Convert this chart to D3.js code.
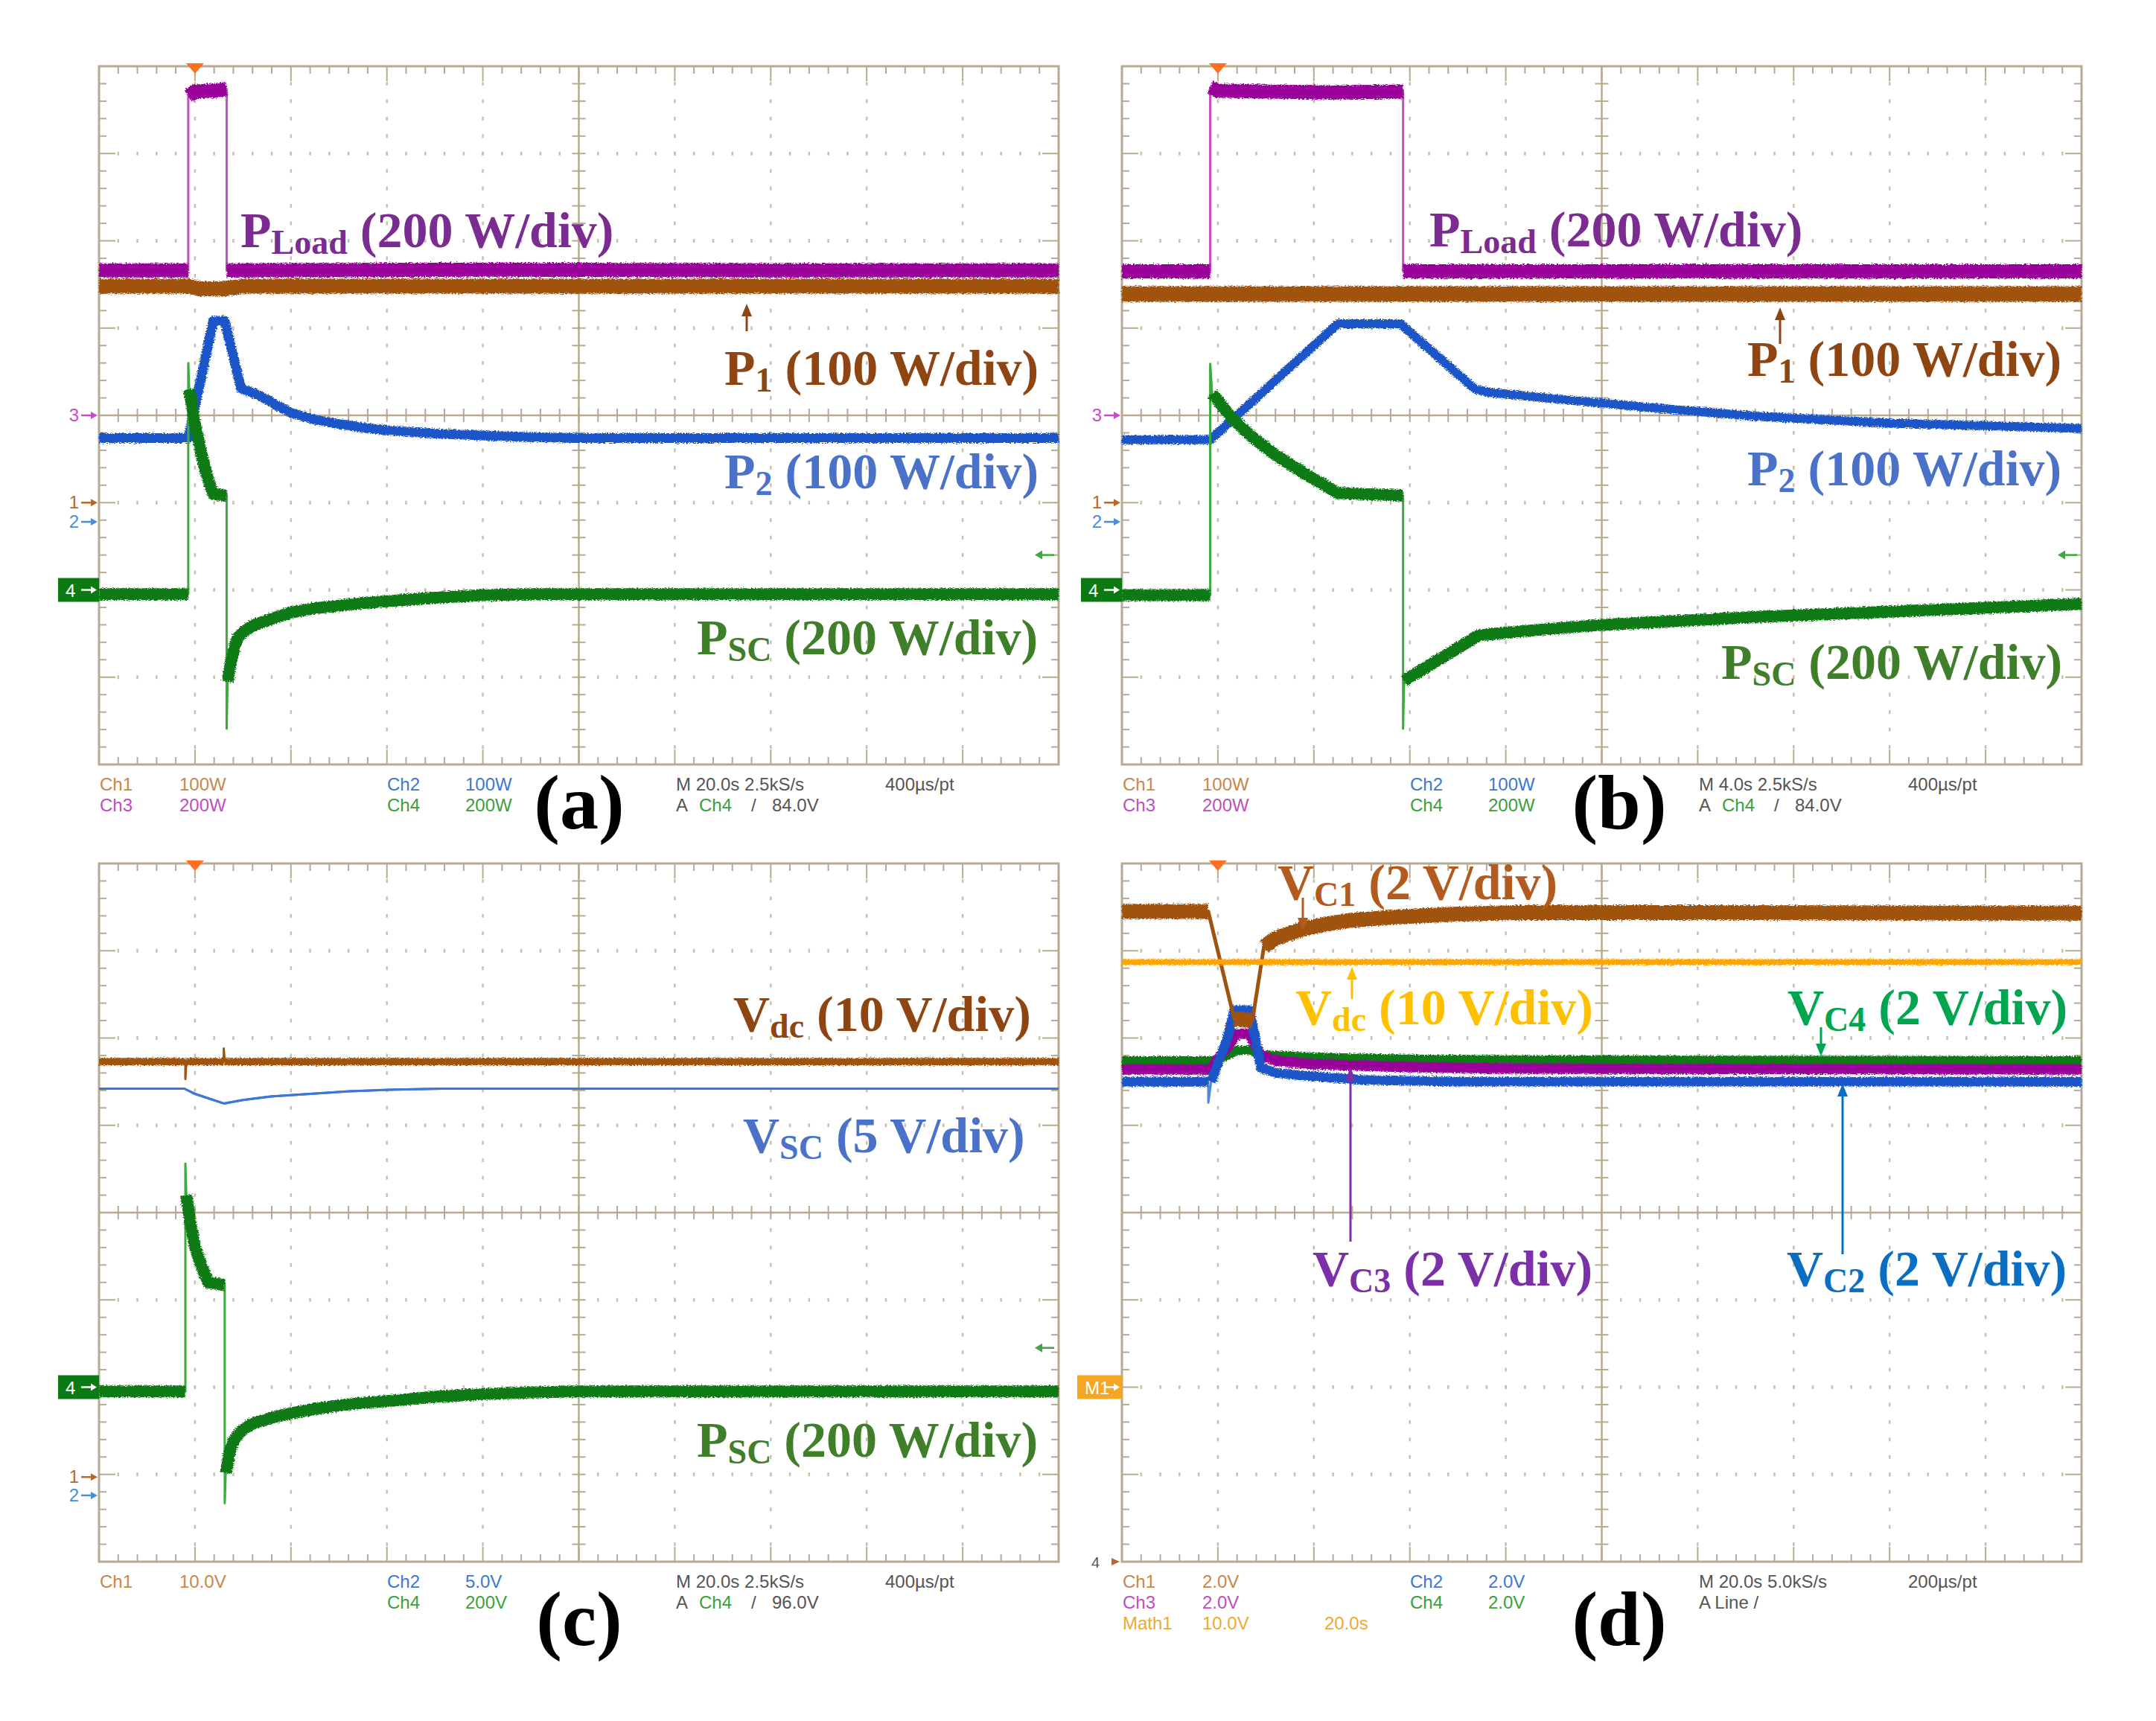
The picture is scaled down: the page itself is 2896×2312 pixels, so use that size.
<!DOCTYPE html>
<html><head><meta charset="utf-8">
<script src="https://cdn.jsdelivr.net/npm/d3@7"></script>
<style>body{margin:0;background:#fff}</style>
</head><body>
<svg id="chart" width="2896" height="2312" xmlns="http://www.w3.org/2000/svg"></svg>
<script>
// ---------------- DATA (x in divisions 0..10, y in divisions -4..4) ----------------
// Panel (a)
const aPLoad = [
  [[0, 1.66], [0.93, 1.66]],
  [[0.93, 3.66], [1.0, 3.71], [1.2, 3.72], [1.33, 3.74]],
  [[1.33, 1.66], [4.0, 1.67], [7.0, 1.66], [10, 1.66]]
];
const aP1 = [[[0, 1.48], [0.93, 1.48], [1.05, 1.45], [1.3, 1.45], [1.5, 1.48], [10, 1.48]]];
const aP2 = [[[0, -0.26], [0.93, -0.26], [1.19, 1.08], [1.31, 1.08], [1.48, 0.31], [1.6, 0.26], [1.72, 0.2],
              [1.86, 0.11], [2.0, 0.03], [2.25, -0.05], [2.5, -0.1], [2.75, -0.14], [3.0, -0.17], [3.5, -0.21],
              [4.0, -0.23], [4.5, -0.25], [5.0, -0.26], [10, -0.26]]];
const aPSC = [
  [[0, -2.05], [0.93, -2.05]],
  [[0.93, 0.6]],
  [[0.94, 0.3], [0.97, 0.1], [1.0, -0.1], [1.05, -0.35], [1.09, -0.55], [1.14, -0.74], [1.19, -0.9], [1.33, -0.92]],
  [[1.33, -3.59]],
  [[1.34, -3.05], [1.38, -2.8], [1.42, -2.62], [1.45, -2.54], [1.52, -2.47], [1.6, -2.41], [1.8, -2.33],
   [2.0, -2.26], [2.25, -2.21], [2.5, -2.18], [2.75, -2.15], [3.0, -2.13], [3.5, -2.09], [4.0, -2.06],
   [4.5, -2.05], [10, -2.05]]
];
// Panel (b)
const bPLoad = [
  [[0, 1.65], [0.92, 1.65]],
  [[0.92, 3.76], [1.0, 3.72], [1.5, 3.71], [2.2, 3.70], [2.93, 3.71]],
  [[2.93, 1.65], [10, 1.65]]
];
const bP1 = [[[0, 1.39], [10, 1.39]]];
const bP2 = [[[0, -0.28], [0.92, -0.28], [2.25, 1.05], [2.9, 1.05], [3.68, 0.3], [3.85, 0.26], [4.23, 0.22],
              [4.6, 0.18], [5.0, 0.14], [5.5, 0.09], [5.94, 0.05], [6.62, -0.01], [7.3, -0.05], [8.0, -0.09],
              [9.0, -0.12], [10, -0.15]]];
const bPSC = [
  [[0, -2.06], [0.92, -2.06]],
  [[0.92, 0.59]],
  [[0.94, 0.25], [1.05, 0.1], [1.16, -0.05], [1.35, -0.24], [1.57, -0.43], [1.75, -0.56], [1.91, -0.67],
   [2.08, -0.78], [2.25, -0.89], [2.93, -0.92]],
  [[2.93, -3.59]],
  [[2.94, -3.04], [3.72, -2.52], [4.2, -2.47], [5.0, -2.4], [6.62, -2.31], [8.0, -2.25], [10, -2.16]]
];
// Panel (c)
const cVdc = [
  [[0, 1.73], [0.9, 1.73]],
  [[0.9, 1.53]],
  [[0.91, 1.73], [1.3, 1.73]],
  [[1.3, 1.88]],
  [[1.31, 1.73], [10, 1.73]]
];
const cVSC = [[[0, 1.42], [0.89, 1.42], [1.0, 1.36], [1.3, 1.25], [1.5, 1.29], [1.79, 1.33], [2.2, 1.36],
               [2.61, 1.39], [3.1, 1.41], [3.57, 1.42], [10, 1.42]]];
const cPSC = [
  [[0, -2.05], [0.9, -2.05]],
  [[0.9, 0.56]],
  [[0.91, 0.2], [0.95, -0.1], [1.0, -0.4], [1.08, -0.65], [1.14, -0.8], [1.31, -0.83]],
  [[1.31, -3.33]],
  [[1.32, -2.98], [1.36, -2.75], [1.4, -2.62], [1.45, -2.54], [1.52, -2.47], [1.6, -2.42], [1.8, -2.35],
   [2.0, -2.30], [2.25, -2.25], [2.5, -2.21], [2.75, -2.18], [3.0, -2.16], [3.5, -2.11], [4.0, -2.08],
   [4.5, -2.06], [5.0, -2.05], [10, -2.05]]
];
// Panel (d)
const dVC1 = [
  [[0, 3.45], [0.9, 3.45]],
  [[1.17, 2.22], [1.36, 2.2]],
  [[1.48, 3.05], [1.55, 3.1], [1.6, 3.14], [1.75, 3.2], [1.89, 3.25], [2.15, 3.31], [2.4, 3.35], [2.65, 3.37],
   [2.91, 3.39], [3.5, 3.42], [4.24, 3.44], [10, 3.43]]
];
const dVdc = [[[0, 2.87], [10, 2.87]]];
const dVC4 = [[[0, 1.74], [0.95, 1.74], [1.1, 1.8], [1.2, 1.86], [1.33, 1.86], [1.45, 1.81], [2.0, 1.78], [3.0, 1.76], [4.0, 1.75], [10, 1.74]]];
const dVC3 = [[[0, 1.64], [0.92, 1.64], [1.1, 1.9], [1.2, 2.05], [1.33, 2.05], [1.45, 1.8], [1.6, 1.74], [2.0, 1.7], [2.9, 1.67], [4.0, 1.65], [10, 1.64]]];
const dVC2 = [
  [[0, 1.5], [0.9, 1.5]],
  [[0.9, 1.26]],
  [[0.93, 1.5], [1.1, 2.0], [1.17, 2.32], [1.33, 2.32], [1.45, 1.66], [1.6, 1.6], [1.89, 1.57], [2.5, 1.52], [3.5, 1.5], [10, 1.5]]
];

// channel reference markers [label, level]
const markersAB = [['3', 0], ['1', -1.0], ['2', -1.22]];
const markersC = [['1', -3.03], ['2', -3.24]];
const ch4BoxLevel = -2.0;
const triggerX = 1.0;
const trigLevelAB = -1.6, trigLevelC = -1.55;

// text labels
const labelsA = [['P', 'Load', '(200 W/div)'], ['P', '1', '(100 W/div)'], ['P', '2', '(100 W/div)'], ['P', 'SC', '(200 W/div)']];
const labelsC = [['V', 'dc', '(10 V/div)'], ['V', 'SC', '(5 V/div)'], ['P', 'SC', '(200 W/div)']];
const labelsD = [['V', 'C1', '(2 V/div)'], ['V', 'dc', '(10 V/div)'], ['V', 'C4', '(2 V/div)'], ['V', 'C3', '(2 V/div)'], ['V', 'C2', '(2 V/div)']];

const infoA = [['Ch1', '100W', 'Ch2', '100W', 'M 20.0s 2.5kS/s', '400µs/pt'], ['Ch3', '200W', 'Ch4', '200W', '84.0V']];
const infoB = [['Ch1', '100W', 'Ch2', '100W', 'M 4.0s 2.5kS/s', '400µs/pt'], ['Ch3', '200W', 'Ch4', '200W', '84.0V']];
const infoC = [['Ch1', '10.0V', 'Ch2', '5.0V', 'M 20.0s 2.5kS/s', '400µs/pt'], ['', '', 'Ch4', '200V', '96.0V']];
const infoD = [['Ch1', '2.0V', 'Ch2', '2.0V', 'M 20.0s 5.0kS/s', '200µs/pt'], ['Ch3', '2.0V', 'Ch4', '2.0V', 'A Line /'], ['Math1', '10.0V', '20.0s']];
const panelLetters = ['(a)', '(b)', '(c)', '(d)'];

// ---------------- DRAWING ----------------
const svg = d3.select('#chart');
const defs = svg.append('defs');
const flt = defs.append('filter').attr('id', 'noise').attr('filterUnits', 'userSpaceOnUse')
  .attr('x', 0).attr('y', 0).attr('width', 2896).attr('height', 2312);
flt.append('feTurbulence').attr('type', 'fractalNoise').attr('baseFrequency', '0.45 0.9').attr('numOctaves', 2).attr('seed', 7).attr('result', 'tb');
flt.append('feDisplacementMap').attr('in', 'SourceGraphic').attr('in2', 'tb').attr('scale', 6)
  .attr('xChannelSelector', 'R').attr('yChannelSelector', 'G');

svg.append('rect').attr('width', 2896).attr('height', 2312).attr('fill', '#fff');

const COL = {
  ch1: '#A0520F', ch2: '#1F55C8', ch3: '#990099', ch4: '#0B7A12', math: '#FFA500',
  ch1e: '#B8682A', ch2e: '#4A8BE0', ch3e: '#C84BC8', ch4e: '#3DAA3D',
  grid: '#B6AB92', dot: '#C9C1AE'
};
const SERIF = "'Liberation Serif','Times New Roman',serif";
const SANS = "'Liberation Sans',Arial,sans-serif";

const boxes = [
  {l: 133, t: 89, r: 1422, b: 1027},
  {l: 1507, t: 89, r: 2796, b: 1027},
  {l: 133, t: 1160, r: 1422, b: 2098},
  {l: 1507, t: 1160, r: 2796, b: 2098}
];
const scales = boxes.map(bx => ({
  x: d3.scaleLinear().domain([0, 10]).range([bx.l, bx.r]),
  y: d3.scaleLinear().domain([-4, 4]).range([bx.b, bx.t])
}));

function drawGrid(g, x, y) {
  const minorX = d3.range(0, 51).map(i => i / 5);
  const minorY = d3.range(0, 41).map(i => -4 + i / 5);
  const isInt = v => Math.abs(v - Math.round(v)) < 1e-6;
  d3.range(1, 10).filter(v => v !== 5).forEach(xv => {
    minorY.filter(v => v > -3.99 && v < 3.99).forEach(yv => {
      g.append('rect').attr('x', x(xv) - 1.25).attr('y', y(yv) - 2.5).attr('width', 2.5).attr('height', 5).attr('fill', COL.dot);
    });
  });
  d3.range(-3, 4).filter(v => v !== 0).forEach(yv => {
    minorX.filter(v => v > 0.01 && v < 9.99).forEach(xv => {
      g.append('rect').attr('x', x(xv) - 1.25).attr('y', y(yv) - 2.5).attr('width', 2.5).attr('height', 5).attr('fill', COL.dot);
    });
  });
  const ln = (x1, y1, x2, y2, w) => g.append('line').attr('x1', x1).attr('y1', y1).attr('x2', x2).attr('y2', y2)
    .attr('stroke', COL.grid).attr('stroke-width', w);
  ln(x(5), y(4), x(5), y(-4), 2.5);
  ln(x(0), y(0), x(10), y(0), 2.5);
  minorY.forEach(yv => ln(x(5) - 9, y(yv), x(5) + 9, y(yv), 2));
  minorX.forEach(xv => ln(x(xv), y(0) - 9, x(xv), y(0) + 9, 2));
  minorX.forEach(xv => {
    const L = isInt(xv) ? 20 : 10;
    ln(x(xv), y(4), x(xv), y(4) + L, 2);
    ln(x(xv), y(-4), x(xv), y(-4) - L, 2);
  });
  minorY.forEach(yv => {
    const L = isInt(yv) ? 22 : 10;
    ln(x(0), y(yv), x(0) + L, y(yv), 2);
    ln(x(10), y(yv), x(10) - L, y(yv), 2);
  });
  g.append('rect').attr('x', x(0)).attr('y', y(4)).attr('width', x(10) - x(0)).attr('height', y(-4) - y(4))
    .attr('fill', 'none').attr('stroke', COL.grid).attr('stroke-width', 3);
}

function drawTrace(g, s, segs, color, band, thinColor, thinW) {
  const line = d3.line().x(d => s.x(d[0])).y(d => s.y(d[1]));
  g.append('path').attr('d', line(segs.flat())).attr('fill', 'none')
    .attr('stroke', thinColor || color).attr('stroke-width', thinW || 3).attr('stroke-linejoin', 'round');
  const tg = g.append('g').attr('filter', band > 6 ? 'url(#noise)' : null);
  segs.filter(sg => sg.length > 1).forEach(sg => {
    tg.append('path').attr('d', line(sg)).attr('fill', 'none').attr('stroke', color)
      .attr('stroke-width', band).attr('stroke-linejoin', 'round').attr('stroke-linecap', 'butt');
  });
}

function trigger(g, s) {
  const cx = s.x(triggerX), t = s.y(4);
  g.append('path').attr('d', `M${cx - 12},${t - 4} L${cx + 12},${t - 4} L${cx},${t + 10} Z`).attr('fill', '#FF6F1E');
}

function marker(g, s, label, level, color) {
  const l = s.x(0), yy = s.y(level);
  g.append('text').attr('x', l - 27).attr('y', yy + 8).attr('text-anchor', 'end').attr('font-family', SANS)
    .attr('font-size', 24).attr('fill', color).text(label);
  g.append('line').attr('x1', l - 24).attr('y1', yy).attr('x2', l - 8).attr('y2', yy).attr('stroke', color).attr('stroke-width', 2.5);
  g.append('path').attr('d', `M${l - 2},${yy} L${l - 11},${yy - 5} L${l - 11},${yy + 5} Z`).attr('fill', color);
}

function boxMarker(g, s, label, level, color, w) {
  const l = s.x(0), yy = s.y(level);
  g.append('rect').attr('x', l - w).attr('y', yy - 16).attr('width', w).attr('height', 32).attr('fill', color);
  g.append('text').attr('x', l - w + 10).attr('y', yy + 9).attr('font-family', SANS).attr('font-size', 24)
    .attr('fill', '#fff').text(label);
  g.append('line').attr('x1', l - 24).attr('y1', yy).attr('x2', l - 8).attr('y2', yy).attr('stroke', '#fff').attr('stroke-width', 2.5);
  g.append('path').attr('d', `M${l - 3},${yy} L${l - 11},${yy - 5} L${l - 11},${yy + 5} Z`).attr('fill', '#fff');
}

function levelArrow(g, s, level, color) {
  const r = s.x(10), yy = s.y(level);
  g.append('line').attr('x1', r - 24).attr('y1', yy).attr('x2', r - 6).attr('y2', yy).attr('stroke', color).attr('stroke-width', 2.5);
  g.append('path').attr('d', `M${r - 32},${yy} L${r - 22},${yy - 6} L${r - 22},${yy + 6} Z`).attr('fill', color);
}

function label(g, x, y, parts, color) {
  const t = g.append('text').attr('x', x).attr('y', y).attr('fill', color).attr('font-family', SERIF)
    .attr('font-weight', 'bold').attr('font-size', 68);
  t.append('tspan').text(parts[0]);
  t.append('tspan').attr('font-size', 46).attr('dy', 9).text(parts[1]);
  t.append('tspan').attr('dy', -9).text('\u00A0' + parts[2]);
}

function arrow(g, x, yTail, yHead, color, w) {
  const dir = yHead < yTail ? -1 : 1;
  g.append('line').attr('x1', x).attr('y1', yTail).attr('x2', x).attr('y2', yHead - dir * 12)
    .attr('stroke', color).attr('stroke-width', w || 3);
  g.append('path').attr('d', `M${x},${yHead} L${x - 7},${yHead - dir * 17} L${x + 7},${yHead - dir * 17} Z`).attr('fill', color);
}

const infoColors = {Ch1: '#C8874A', Ch2: '#3A78D8', Ch3: '#C04DC0', Ch4: '#3AA03A', Math1: '#F0A830'};
function info(g, bx, rows, trig) {
  const l = bx.l, base = bx.b + 35;
  const rowGap = 28;
  const txt = (x, y, s, c) => g.append('text').attr('x', x).attr('y', y).attr('font-family', SANS)
    .attr('font-size', 24).attr('fill', c).text(s);
  rows.forEach((row, i) => {
    const y = base + i * rowGap;
    const c1 = infoColors[row[0]] || '#555';
    if (row[0]) txt(l + 1, y, row[0], c1);
    if (row[1]) txt(l + 108, y, row[1], c1);
    if (row.length === 3 && row[0] === 'Math1') { txt(l + 272, y, row[2], c1); return; }
    const c2 = infoColors[row[2]] || '#555';
    if (row[2]) txt(l + 387, y, row[2], c2);
    if (row[3]) txt(l + 492, y, row[3], c2);
    if (i === 0) { txt(l + 775, y, row[4], '#555'); txt(l + 1056, y, row[5], '#555'); }
    if (i === 1) {
      if (trig) {
        txt(l + 775, y, 'A', '#555');
        txt(l + 806, y, 'Ch4', infoColors.Ch4);
        txt(l + 876, y, '/', '#555');
        txt(l + 904, y, row[4], '#555');
      } else {
        txt(l + 775, y, row[4], '#555');
      }
    }
  });
}

// ---- Panels ----
const groups = boxes.map(() => svg.append('g'));
groups.forEach((g, i) => drawGrid(g, scales[i].x, scales[i].y));

// (a)
{
  const g = groups[0], s = scales[0];
  drawTrace(g, s, aPLoad, COL.ch3, 19, COL.ch3e, 3);
  drawTrace(g, s, aP1, COL.ch1, 20);
  drawTrace(g, s, aP2, COL.ch2, 13);
  drawTrace(g, s, aPSC, COL.ch4, 16, COL.ch4e, 3);
  trigger(g, s);
  markersAB.forEach((m, k) => marker(g, s, m[0], m[1], [COL.ch3e, COL.ch1e, COL.ch2e][k]));
  boxMarker(g, s, '4', ch4BoxLevel, COL.ch4, 55);
  levelArrow(g, s, trigLevelAB, COL.ch4e);
  label(g, 323, 332, labelsA[0], '#7A2C91');
  arrow(g, 1003, 445, 408, '#8E4512', 3);
  label(g, 973, 517, labelsA[1], '#8E4512');
  label(g, 973, 656, labelsA[2], '#4A72C8');
  label(g, 936, 879, labelsA[3], '#3F7F2A');
  info(g, boxes[0], infoA, true);
}
// (b)
{
  const g = groups[1], s = scales[1];
  drawTrace(g, s, bPLoad, COL.ch3, 19, COL.ch3e, 3);
  drawTrace(g, s, bP1, COL.ch1, 21);
  drawTrace(g, s, bP2, COL.ch2, 12);
  drawTrace(g, s, bPSC, COL.ch4, 16, COL.ch4e, 3);
  trigger(g, s);
  markersAB.forEach((m, k) => marker(g, s, m[0], m[1], [COL.ch3e, COL.ch1e, COL.ch2e][k]));
  boxMarker(g, s, '4', ch4BoxLevel, COL.ch4, 55);
  levelArrow(g, s, trigLevelAB, COL.ch4e);
  label(g, 1920, 331, labelsA[0], '#7A2C91');
  arrow(g, 2391, 462, 413, '#8E4512', 3);
  label(g, 2347, 505, labelsA[1], '#8E4512');
  label(g, 2347, 652, labelsA[2], '#4A72C8');
  label(g, 2312, 912, labelsA[3], '#3F7F2A');
  info(g, boxes[1], infoB, true);
}
// (c)
{
  const g = groups[2], s = scales[2];
  drawTrace(g, s, cVdc, COL.ch1, 10, COL.ch1, 3);
  drawTrace(g, s, cVSC, '#3E78D6', 3);
  drawTrace(g, s, cPSC, COL.ch4, 16, COL.ch4e, 3);
  trigger(g, s);
  markersC.forEach((m, k) => marker(g, s, m[0], m[1], [COL.ch1e, COL.ch2e][k]));
  boxMarker(g, s, '4', ch4BoxLevel, COL.ch4, 55);
  levelArrow(g, s, trigLevelC, COL.ch4e);
  label(g, 985, 1385, labelsC[0], '#8E4512');
  label(g, 998, 1548, labelsC[1], '#4A72C8');
  label(g, 936, 1957, labelsC[2], '#3F7F2A');
  info(g, boxes[2], infoC, true);
}
// (d)
{
  const g = groups[3], s = scales[3];
  drawTrace(g, s, dVC4, COL.ch4, 12);
  drawTrace(g, s, dVC3, COL.ch3, 14);
  drawTrace(g, s, dVC2, COL.ch2, 13, COL.ch2e, 3);
  drawTrace(g, s, dVC1, COL.ch1, 20, COL.ch1, 5);
  drawTrace(g, s, dVdc, COL.math, 8);
  trigger(g, s);
  boxMarker(g, s, 'M1', ch4BoxLevel, '#F5A623', 60);
  g.append('text').attr('x', s.x(0) - 30).attr('y', s.y(-4) + 8).attr('text-anchor', 'end').attr('font-family', SANS)
    .attr('font-size', 20).attr('fill', '#555').text('4');
  g.append('path').attr('d', `M${s.x(0) - 3},${s.y(-4)} L${s.x(0) - 14},${s.y(-4) - 5} L${s.x(0) - 14},${s.y(-4) + 5} Z`).attr('fill', COL.ch1e);
  label(g, 1716, 1208, labelsD[0], '#B35A1F');
  arrow(g, 1750, 1206, 1250, '#B35A1F', 3);
  label(g, 1740, 1376, labelsD[1], '#FFC000');
  arrow(g, 1816, 1342, 1299, '#FFC000', 3);
  label(g, 2401, 1376, labelsD[2], '#00A550');
  arrow(g, 2446, 1380, 1419, '#00A550', 3);
  label(g, 1763, 1727, labelsD[3], '#7B30A8');
  arrow(g, 1814, 1668, 1434, '#7B30A8', 3);
  label(g, 2400, 1727, labelsD[4], '#0A6FC2');
  arrow(g, 2475, 1685, 1456, '#0A6FC2', 3);
  info(g, boxes[3], infoD, false);
}

// panel letters
const letterPos = [[778, 1113], [2175, 1113], [778, 2210], [2175, 2210]];
panelLetters.forEach((t, i) => {
  svg.append('text').attr('x', letterPos[i][0]).attr('y', letterPos[i][1]).attr('text-anchor', 'middle')
    .attr('font-family', SERIF).attr('font-weight', 'bold').attr('font-size', 104).attr('fill', '#000').text(t);
});
</script></body></html>
